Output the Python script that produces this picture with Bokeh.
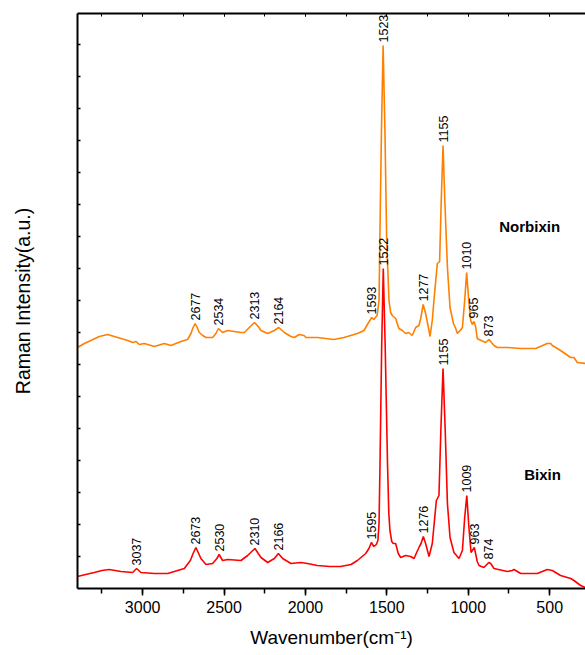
import numpy as np
from bokeh.plotting import figure
from bokeh.models import Range1d, LinearAxis, SingleIntervalTicker, FixedTicker, ColumnDataSource
from bokeh.core.properties import value
from bokeh.embed import file_html
from bokeh.resources import INLINE

# Raman shift (cm-1) and intensity (a.u.); Norbixin is stacked above Bixin
norbixin_shift = [3400, 3358, 3318, 3266, 3215, 3174, 3133, 3092, 3060, 3041, 3020, 2990, 2928, 2867,
                  2826, 2765, 2724, 2703, 2690, 2677, 2665, 2652, 2631, 2611, 2570, 2550, 2534, 2509,
                  2478, 2437, 2396, 2375, 2345, 2313, 2290, 2273, 2232, 2191, 2164, 2130, 2089, 2068,
                  2038, 2009, 1997, 1927, 1825, 1763, 1681, 1640, 1616, 1593, 1580, 1560, 1548, 1543,
                  1533, 1523, 1512, 1501, 1487, 1477, 1467, 1446, 1426, 1405, 1385, 1366, 1344, 1323,
                  1303, 1292, 1277, 1262, 1241, 1235, 1221, 1211, 1190, 1176, 1166, 1155, 1144, 1128,
                  1112, 1091, 1077, 1067, 1050, 1036, 1022, 1010, 997, 985, 975, 965, 955, 945, 934,
                  893, 873, 842, 822, 760, 678, 658, 586, 515, 494, 484, 433, 371, 351, 330, 279]
norbixin_int = [241, 245, 248, 252, 254, 252, 250, 248, 246, 247, 244, 245, 242, 245,
                243, 247, 249, 255, 261, 265, 261, 256, 253, 251, 251, 255, 260, 256,
                258, 257, 256, 256, 261, 266, 262, 258, 255, 258, 261, 256, 252, 251,
                254, 253, 251, 251, 249, 251, 255, 258, 265, 271, 269, 273, 288, 348,
                460, 543, 460, 348, 288, 276, 273, 270, 260, 258, 255, 256, 253, 261,
                263, 270, 284, 275, 258, 252, 268, 288, 325, 327, 388, 443, 388, 321,
                281, 265, 260, 255, 258, 261, 288, 316, 288, 268, 264, 267, 262, 250, 249,
                246, 249, 243, 241, 241, 240, 240, 240, 245, 245, 243, 238, 231, 231, 226, 225]

bixin_shift = [3400, 3350, 3297, 3250, 3205, 3133, 3061, 3037, 3010, 2928, 2846, 2785, 2744, 2707,
               2690, 2673, 2656, 2642, 2611, 2570, 2544, 2530, 2509, 2478, 2396, 2355, 2330, 2310,
               2290, 2273, 2232, 2191, 2166, 2140, 2089, 2028, 1987, 1927, 1850, 1784, 1720, 1681,
               1630, 1610, 1595, 1580, 1565, 1555, 1548, 1542, 1532, 1522, 1510, 1496, 1488, 1481,
               1470, 1461, 1446, 1430, 1415, 1385, 1354, 1333, 1317, 1300, 1290, 1276, 1262, 1241,
               1221, 1196, 1180, 1168, 1155, 1142, 1128, 1112, 1088, 1057, 1036, 1022, 1009, 996,
               983, 975, 963, 955, 945, 934, 904, 874, 862, 842, 760, 730, 719, 678, 658, 596,
               576, 515, 484, 433, 371, 351, 310, 279]
bixin_int = [12, 14, 16, 18, 19, 17, 16, 20, 16, 15, 15, 18, 20, 28,
             35, 41, 35, 30, 24, 25, 30, 34, 28, 29, 28, 33, 37, 40,
             35, 31, 26, 30, 35, 30, 25, 26, 25, 23, 22, 22, 24, 28,
             35, 40, 46, 42, 44, 48, 65, 125, 240, 320, 240, 125, 75, 58,
             47, 45, 45, 35, 31, 33, 32, 30, 36, 42, 45, 52, 45, 32,
             45, 88, 93, 160, 220, 160, 85, 51, 36, 30, 38, 71, 93, 61,
             36, 38, 41, 35, 27, 23, 21, 26, 25, 20, 17, 18, 19, 15, 15, 15,
             15, 19, 18, 13, 10, 8, 3, 1]

# Annotated band positions (cm-1)
norbixin_peaks = [2677, 2534, 2313, 2164, 1593, 1523, 1277, 1155, 1010, 965, 873]
bixin_peaks = [3037, 2673, 2530, 2310, 2166, 1595, 1522, 1276, 1155, 1009, 963, 874]

ORANGE = "#ff8000"
RED = "#ff0000"
FONT = "Liberation Sans"

p = figure(width=585, height=655,
           x_range=Range1d(3400, 280), y_range=Range1d(0, 575),
           output_backend="svg", toolbar_location=None,
           min_border_left=77, min_border_right=0, min_border_top=13, min_border_bottom=67,
           background_fill_color="white", border_fill_color="white")
p.outline_line_color = None
p.xgrid.visible = False
p.ygrid.visible = False

p.line(norbixin_shift, norbixin_int, line_color=ORANGE, line_width=1.6)
p.line(bixin_shift, bixin_int, line_color=RED, line_width=1.6)


def peak_labels(shift, inten, peaks):
    xs = np.array(shift[::-1], dtype=float)
    ys = np.array(inten[::-1], dtype=float)
    top = np.interp(peaks, xs, ys)
    return ColumnDataSource(dict(x=peaks, y=top + 3, t=[str(v) for v in peaks]))


for shift, inten, peaks in ((norbixin_shift, norbixin_int, norbixin_peaks),
                            (bixin_shift, bixin_int, bixin_peaks)):
    p.text(x="x", y="y", text="t", source=peak_labels(shift, inten, peaks),
           angle=np.pi / 2, text_align="left", text_baseline="middle",
           text_font=value(FONT), text_font_size=value("12.5px"), text_color="black")

# sample names
p.text(x=[623, 544], y=[362, 114], text=["Norbixin", "Bixin"],
       text_align="center", text_baseline="middle", text_font=value(FONT),
       text_font_size=value("15px"), text_font_style="bold", text_color="black")

xticker = SingleIntervalTicker(interval=500, num_minor_ticks=2)

xa = p.xaxis[0]
xa.ticker = xticker
xa.axis_label = "Wavenumber(cm\u207b\u00b9)"
xa.axis_label_text_font = FONT
xa.axis_label_text_font_size = "19px"
xa.axis_label_text_font_style = "normal"
xa.axis_label_text_color = "black"
xa.axis_label_standoff = 11
xa.major_label_text_font = FONT
xa.major_label_text_font_size = "16px"
xa.major_label_text_color = "black"
xa.major_label_standoff = 5
xa.axis_line_width = 2
xa.axis_line_color = "black"
xa.major_tick_in = 0
xa.major_tick_out = 7
xa.minor_tick_in = 0
xa.minor_tick_out = 5
xa.major_tick_line_width = 1.5
xa.minor_tick_line_width = 1.5
xa.major_tick_line_color = "black"
xa.minor_tick_line_color = "black"

# left axis: inward ticks only, tick values not shown
ya = p.yaxis[0]
ya.ticker = FixedTicker(ticks=list(range(32, 575, 32)))
ya.axis_label = "Raman Intensity(a.u.)"
ya.axis_label_text_font = FONT
ya.axis_label_text_font_size = "19.5px"
ya.axis_label_text_font_style = "normal"
ya.axis_label_text_color = "black"
ya.axis_label_standoff = 44
ya.major_label_text_font_size = "1px"
ya.major_label_text_color = None
ya.major_label_standoff = 0
ya.axis_line_width = 2
ya.axis_line_color = "black"
ya.major_tick_in = 3
ya.major_tick_out = 0
ya.major_tick_line_color = "black"
ya.major_tick_line_width = 1.5
ya.minor_tick_line_color = None

top = LinearAxis(ticker=xticker)
top.major_label_text_font_size = "1px"
top.major_label_text_color = None
top.major_label_standoff = 0
top.axis_line_width = 2
top.axis_line_color = "black"
top.major_tick_in = 3
top.major_tick_out = 0
top.minor_tick_in = 3
top.minor_tick_out = 0
top.major_tick_line_color = "black"
top.minor_tick_line_color = "black"
p.add_layout(top, "above")

open("out.html", "w").write(file_html(p, INLINE))
